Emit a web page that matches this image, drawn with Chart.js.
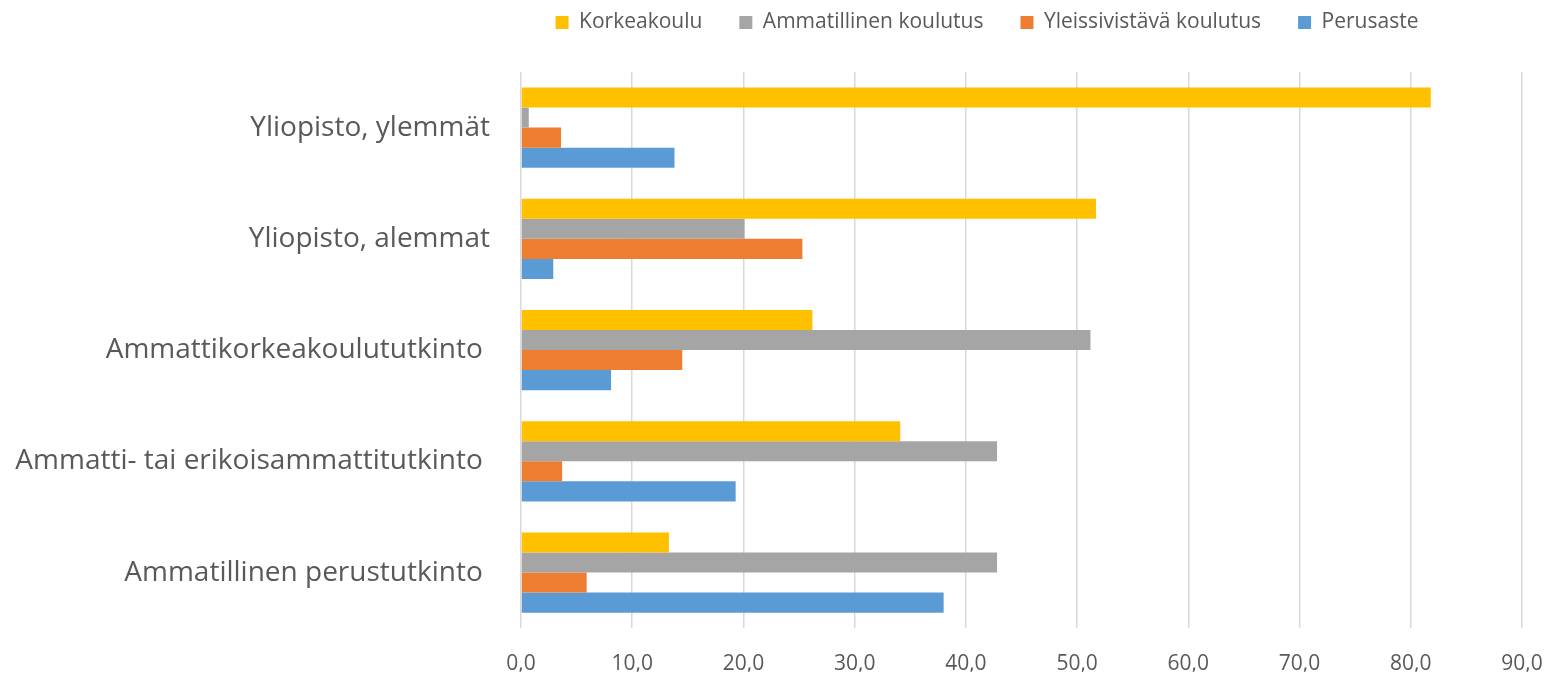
<!DOCTYPE html>
<html>
<head>
<meta charset="utf-8">
<script src="https://cdn.jsdelivr.net/npm/chart.js@4"></script>
<style>
  html, body { margin: 0; padding: 0; background: #fff; }
  #wrap { width: 1548px; height: 676px; }
</style>
</head>
<body>
<div id="wrap"><canvas id="koulutus"></canvas></div>
<script>
// tutkinnot, ylhäältä alas
const tutkinnot = ['Yliopisto, ylemmät', 'Yliopisto, alemmat', 'Ammattikorkeakoulututkinto ', 'Ammatti- tai erikoisammattitutkinto ', 'Ammatillinen perustutkinto '];
const korkeakoulu = [81.8, 51.7, 26.2, 34.1, 13.3];
const ammatillinen = [0.7, 20.1, 51.2, 42.8, 42.8];
const yleissivistava = [3.6, 25.3, 14.5, 3.7, 5.9];
const perusaste = [13.8, 2.9, 8.1, 19.3, 38.0];
const xTicks = [0, 10, 20, 30, 40, 50, 60, 70, 80, 90];

const textColor = '#595959';

// legend sits higher and a bit right, like in the excel picture
const legendPlace = {
  id: 'legendPlace',
  beforeInit(chart) {
    const fit = chart.legend.fit;
    chart.legend.fit = function () {
      fit.bind(chart.legend)();
      this.height = 72;
    };
  },
  afterLayout(chart) {
    const lg = chart.legend;
    lg.top = -25;
    lg.left += 226;
    lg.right += 226;
  }
};

const config = {
  type: 'bar',
  data: {
    labels: tutkinnot,
    datasets: [
      { label: 'Korkeakoulu', data: korkeakoulu, backgroundColor: '#FFC000' },
      { label: 'Ammatillinen koulutus', data: ammatillinen, backgroundColor: '#A5A5A5' },
      { label: 'Yleissivistävä koulutus', data: yleissivistava, backgroundColor: '#ED7D31' },
      { label: 'Perusaste', data: perusaste, backgroundColor: '#5B9BD5' }
    ]
  },
  options: {
    indexAxis: 'y',
    responsive: true,
    maintainAspectRatio: false,
    animation: false,
    datasets: { bar: { categoryPercentage: 0.72, barPercentage: 1.0 } },
    layout: { padding: { left: 0, right: 26, top: 0, bottom: 0 } },
    plugins: {
      legend: {
        position: 'top',
        labels: {
          boxWidth: 13,
          boxHeight: 13,
          padding: 37,
          color: textColor,
          font: { family: 'Open Sans', size: 21 }
        }
      },
      tooltip: { enabled: false }
    },
    scales: {
      x: {
        min: 0,
        max: 90,
        afterBuildTicks(scale) { scale.ticks = xTicks.map(v => ({ value: v })); },
        afterFit(scale) {
          scale.height = 43.5;
          scale.paddingRight = 0;
        },
        grid: { color: '#d9d9d9', lineWidth: 1.5, drawTicks: false },
        border: { display: false },
        ticks: {
          padding: 23,
          color: textColor,
          font: { family: 'Open Sans', size: 21 },
          callback: v => v.toFixed(1).replace('.', ',')
        }
      },
      y: {
        afterFit(scale) { scale.width = 521; },
        grid: { display: false, drawTicks: false },
        border: { display: false },
        ticks: {
          padding: 31,
          color: textColor,
          font: { family: 'Open Sans', size: 28 }
        }
      }
    }
  },
  plugins: [legendPlace]
};

const ctx = document.getElementById('koulutus');
new Chart(ctx, config);
</script>
</body>
</html>
